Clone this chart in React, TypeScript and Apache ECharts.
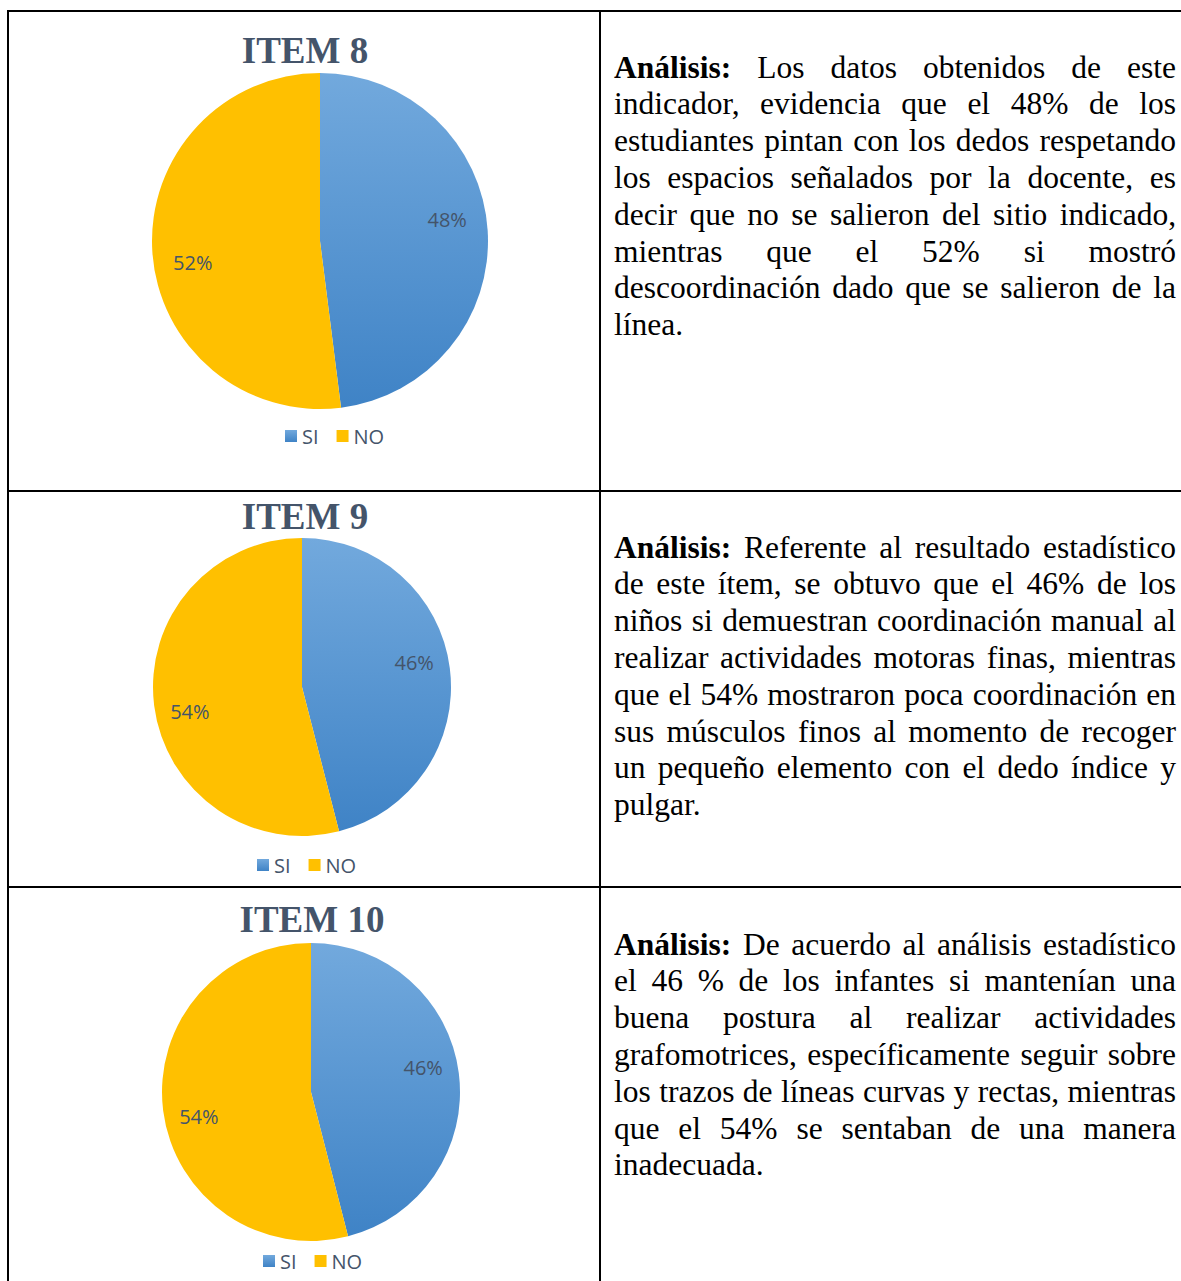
import React, { useEffect, useRef } from 'react';
import * as echarts from 'echarts';

// ---------- DATA ----------
const categories = ['SI', 'NO'];
const itemTitles = ['ITEM 8', 'ITEM 9', 'ITEM 10'];
const item8Values = [48, 52];
const item9Values = [46, 54];
const item10Values = [46, 54];

const analysis8Lines = [
  'Análisis: Los datos obtenidos de este',
  'indicador, evidencia que el 48% de los',
  'estudiantes pintan con los dedos respetando',
  'los espacios señalados por la docente, es',
  'decir que no se salieron del sitio indicado,',
  'mientras que el 52% si mostró',
  'descoordinación dado que se salieron de la',
  'línea.',
];
const analysis9Lines = [
  'Análisis: Referente al resultado estadístico',
  'de este ítem, se obtuvo que el 46% de los',
  'niños si demuestran coordinación manual al',
  'realizar actividades motoras finas, mientras',
  'que el 54% mostraron poca coordinación en',
  'sus músculos finos al momento de recoger',
  'un pequeño elemento con el dedo índice y',
  'pulgar.',
];
const analysis10Lines = [
  'Análisis: De acuerdo al análisis estadístico',
  'el 46 % de los infantes si mantenían una',
  'buena postura al realizar actividades',
  'grafomotrices, específicamente seguir sobre',
  'los trazos de líneas curvas y rectas, mientras',
  'que el 54% se sentaban de una manera',
  'inadecuada.',
];

// ---------- LAYOUT / STYLE ----------
const W = 1181;
const H = 1281;
const TEXT_COLOR = '#44546A';
const YELLOW = '#FFC000';
const blueGradient = () =>
  new echarts.graphic.LinearGradient(0, 0, 0, 1, [
    { offset: 0, color: '#72A9DD' },
    { offset: 1, color: '#3F83C6' },
  ]);

const panels = [
  { values: item8Values, title: itemTitles[0], titleX: 305, titleY: 50, cx: 320, cy: 241, r: 168, legendLeft: 285, legendTop: 426, text: analysis8Lines, textY: 67, labelStart: 96 },
  { values: item9Values, title: itemTitles[1], titleX: 305, titleY: 516, cx: 302, cy: 687, r: 149, legendLeft: 257, legendTop: 855, text: analysis9Lines, textY: 547, labelStart: 95 },
  { values: item10Values, title: itemTitles[2], titleX: 312, titleY: 919, cx: 311, cy: 1092, r: 149, legendLeft: 263, legendTop: 1251, text: analysis10Lines, textY: 944, labelStart: 95 },
];

const SERIF = '"Liberation Serif", "Times New Roman", serif';
const SANS = '"Open Sans", "Noto Sans", sans-serif';
const BODY_SIZE = 31.5;
const BODY_FONT = `${BODY_SIZE}px ${SERIF}`;
const BOLD_FONT = `bold ${BODY_SIZE}px ${SERIF}`;
const TEXT_X = 614;
const TEXT_W = 562;
const LINE_H = 36.8;

function buildParagraph(lines: string[], y0: number): any[] {
  const canvas = document.createElement('canvas');
  const ctx = canvas.getContext('2d') as CanvasRenderingContext2D;
  const els: any[] = [];
  lines.forEach((line, li) => {
    const y = y0 + li * LINE_H;
    const words = line.split(' ');
    const fonts = words.map((_, wi) => (li === 0 && wi === 0 ? BOLD_FONT : BODY_FONT));
    const widths = words.map((w, i) => {
      ctx.font = fonts[i];
      return ctx.measureText(w).width;
    });
    ctx.font = BODY_FONT;
    const space = ctx.measureText(' ').width;
    const total = widths.reduce((a, b) => a + b, 0);
    const isLast = li === lines.length - 1;
    let gap = space;
    if (!isLast && words.length > 1) gap = (TEXT_W - total) / (words.length - 1);
    let x = TEXT_X;
    words.forEach((w, i) => {
      els.push({
        type: 'text',
        x,
        y,
        silent: true,
        style: { text: w, font: fonts[i], fill: '#000000', textAlign: 'left', textVerticalAlign: 'middle' },
      });
      x += widths[i] + gap;
    });
  });
  return els;
}

function buildOption(): any {
  const graphic: any[] = [];
  const lineStyle = { stroke: '#000000', lineWidth: 2 };
  // table borders
  graphic.push({ type: 'line', silent: true, shape: { x1: 7, y1: 11, x2: W, y2: 11 }, style: lineStyle });
  graphic.push({ type: 'line', silent: true, shape: { x1: 8, y1: 10, x2: 8, y2: H }, style: lineStyle });
  graphic.push({ type: 'line', silent: true, shape: { x1: 600, y1: 10, x2: 600, y2: H }, style: lineStyle });
  graphic.push({ type: 'line', silent: true, shape: { x1: 7, y1: 491, x2: W, y2: 491 }, style: lineStyle });
  graphic.push({ type: 'line', silent: true, shape: { x1: 7, y1: 887, x2: W, y2: 887 }, style: lineStyle });

  const series: any[] = [];
  const legend: any[] = [];

  panels.forEach((p) => {
    graphic.push({
      type: 'text',
      x: p.titleX,
      y: p.titleY,
      silent: true,
      style: {
        text: p.title,
        font: `bold 37px ${SERIF}`,
        fill: TEXT_COLOR,
        textAlign: 'center',
        textVerticalAlign: 'middle',
      },
    });
    graphic.push(...buildParagraph(p.text, p.textY));

    const colors = [blueGradient(), YELLOW];
    series.push({
      type: 'pie',
      name: p.title,
      center: [p.cx, p.cy],
      radius: [0, p.r],
      startAngle: 90,
      clockwise: true,
      silent: true,
      label: { show: false },
      labelLine: { show: false },
      itemStyle: { borderWidth: 0 },
      data: categories.map((c, i) => ({ name: c, value: p.values[i], itemStyle: { color: colors[i] } })),
    });
    series.push({
      type: 'pie',
      name: p.title + ' labels',
      center: [p.cx, p.cy],
      radius: [p.r * 0.5, p.r],
      startAngle: p.labelStart,
      clockwise: true,
      silent: true,
      itemStyle: { color: 'rgba(0,0,0,0)', borderWidth: 0 },
      label: {
        show: true,
        position: 'inside',
        formatter: '{c}%',
        color: TEXT_COLOR,
        fontSize: 20,
        fontFamily: SANS,
      },
      labelLine: { show: false },
      data: categories.map((c, i) => ({ name: c, value: p.values[i] })),
    });

    legend.push({
      left: p.legendLeft,
      top: p.legendTop,
      orient: 'horizontal',
      padding: 0,
      itemWidth: 12,
      itemHeight: 12,
      itemGap: 18,
      icon: 'rect',
      selectedMode: false,
      textStyle: { color: TEXT_COLOR, fontSize: 20, fontFamily: SANS },
      data: categories.map((c, i) => ({ name: c, itemStyle: { color: i === 0 ? blueGradient() : YELLOW } })),
    });
  });

  return {
    animation: false,
    backgroundColor: '#ffffff',
    legend,
    series,
    graphic,
  };
}

export default function App() {
  const ref = useRef<HTMLDivElement>(null);
  useEffect(() => {
    if (!ref.current) return;
    const chart = echarts.init(ref.current, undefined, { renderer: 'svg' });
    chart.setOption(buildOption());
    return () => chart.dispose();
  }, []);
  return (
    <div
      ref={ref}
      style={{ position: 'absolute', left: 0, top: 0, width: W, height: H, background: '#ffffff' }}
    />
  );
}
